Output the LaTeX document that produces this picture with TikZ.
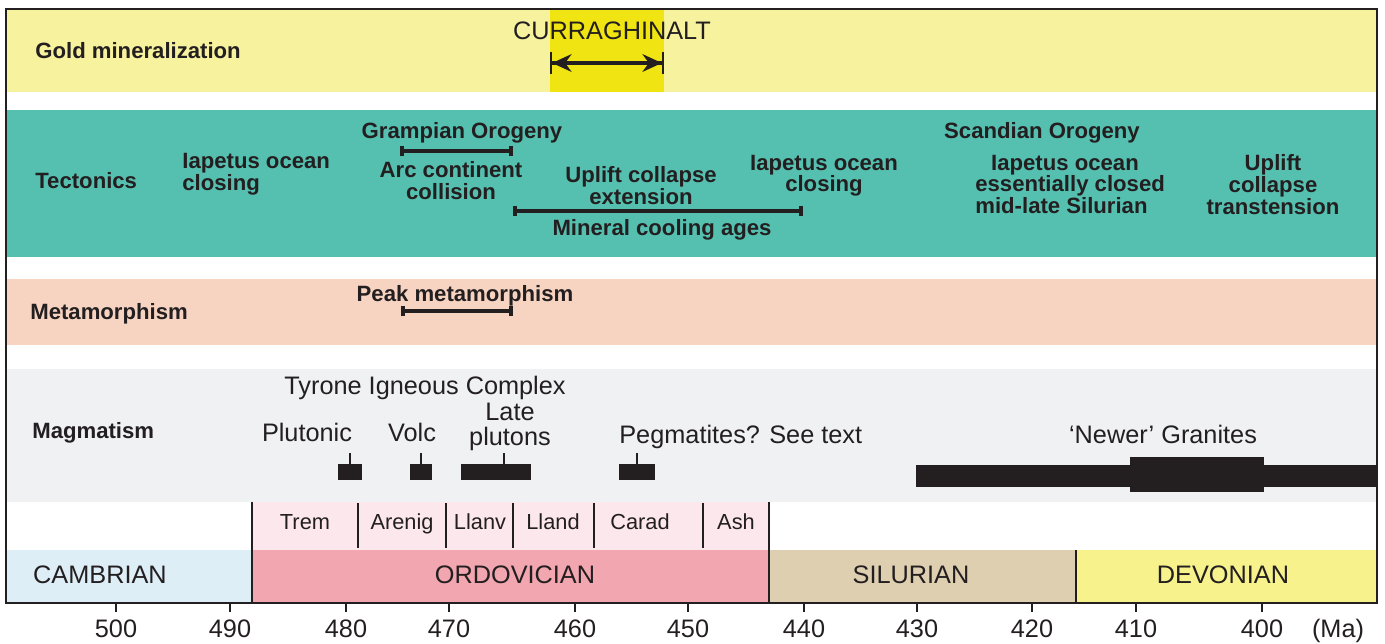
\documentclass[tikz,border=0pt]{standalone}
\usepackage{fontspec}
\setmainfont{Liberation Sans}
\usepackage{xcolor}
\usepackage{tikz}
\usetikzlibrary{arrows.meta}
\definecolor{ink}{RGB}{35,31,32}
\definecolor{goldband}{RGB}{247,242,158}
\definecolor{curfill}{RGB}{240,228,18}
\definecolor{tecband}{RGB}{85,192,176}
\definecolor{metband}{RGB}{247,211,193}
\definecolor{magband}{RGB}{240,241,243}
\definecolor{stagefill}{RGB}{252,232,236}
\definecolor{cambrian}{RGB}{222,238,247}
\definecolor{ordovician}{RGB}{242,166,176}
\definecolor{silurian}{RGB}{223,207,177}
\definecolor{devonian}{RGB}{247,242,140}
\tikzset{
  bandlabel/.style={anchor=base west, inner sep=0pt, text=ink,
                    font=\fontsize{12.6}{12.4}\selectfont\bfseries},
  evlabel/.style={inner sep=0pt, text=ink, align=center,
                  font=\fontsize{12.6}{12.4}\selectfont\bfseries},
  plainlabel/.style={inner sep=0pt, text=ink,
                     font=\fontsize{14.4}{14.3}\selectfont},
  stagelabel/.style={anchor=base, inner sep=0pt, text=ink,
                     font=\fontsize{12.4}{13}\selectfont},
  rangebar/.style={draw=ink, line width=2.3pt,
                   {Bar[width=6pt]}-{Bar[width=6pt]}},
  datebar/.style={draw=ink, line width=2.7pt,
                  {Bar[width=13pt,line width=1.2pt]Stealth[length=11pt,width=10pt]}-{Stealth[length=11pt,width=10pt]Bar[width=13pt,line width=1.2pt]}},
  divider/.style={draw=ink, line width=1.1pt},
  frame/.style={draw=ink, line width=1.2pt},
  axistick/.style={draw=ink, line width=1.1pt},
  stem/.style={draw=ink, line width=0.8pt},
}
\begin{document}
\begin{tikzpicture}[x=0.02cm, y=-0.02cm]
\useasboundingbox (0,0) rectangle (1385,643);
% one row per process, time runs right to left (Ma)
\fill[goldband] (6,9) rectangle (1377,92);
\fill[curfill] (550,9) rectangle (664,92);
\fill[tecband] (6,110) rectangle (1377,257);
\fill[metband] (6,279) rectangle (1377,345);
\fill[magband] (6,369) rectangle (1377,502);
\fill[stagefill] (252,502) rectangle (769,550);
% periods along the bottom
\foreach \xa/\xb/\col/\name/\xl in {6/252/cambrian/CAMBRIAN/100,
    252/769/ordovician/ORDOVICIAN/515, 769/1076/silurian/SILURIAN/911,
    1076/1377/devonian/DEVONIAN/1223}{
  \fill[\col] (\xa,550) rectangle (\xb,603);
  \node[plainlabel, anchor=base] (per-\name) at (\xl,583) {\name};
}
% Ordovician stages
\foreach \xx in {358,446,513,594,703}
  \draw[divider] (\xx,503) -- (\xx,548);
\draw[divider] (252,502) -- (252,603);
\draw[divider] (769,502) -- (769,603);
\draw[divider] (1076,550) -- (1076,603);
\foreach \xx/\name in {305/Trem,402/Arenig,480/Llanv,553/Lland,640/Carad,736/Ash}
  \node[stagelabel] (st-\name) at (\xx,529) {\name};
% frame and time axis
\draw[frame] (6,9) rectangle (1377,603);
\foreach \xx/\age in {116/500,230/490,346/480,449/470,575/460,688/450,
    804/440,917/430,1032/420,1136/410,1262/400}{
  \draw[axistick] (\xx,603) -- (\xx,612);
  \node[plainlabel, anchor=base] (age-\age) at (\xx,637) {\age};
}
\node[plainlabel, anchor=base] (unit) at (1338,637) {(Ma)};
% row titles
\node[bandlabel] (gold) at (35,58) {Gold mineralization};
\node[bandlabel] (tect) at (35,188) {Tectonics};
\node[bandlabel] (meta) at (30,319) {Metamorphism};
\node[bandlabel] (magm) at (32,438) {Magmatism};
% gold
\node[plainlabel, anchor=base] (curr) at (612,39) {CURRAGHINALT};
\coordinate (curr-s) at (550,63);
\coordinate (curr-e) at (664,63);
\draw[datebar] (curr-s) -- (curr-e);
% tectonics
\node[evlabel, anchor=north west, align=left] (iap1) at (182,153) {Iapetus ocean\\closing};
\node[evlabel, anchor=base] (gramp) at (462,138) {Grampian Orogeny};
\coordinate (gramp-s) at (400,151);
\coordinate (gramp-e) at (513,151);
\draw[rangebar] (gramp-s) -- (gramp-e);
\node[evlabel, anchor=north] (arc) at (451,161.5) {Arc continent\\collision};
\node[evlabel, anchor=north] (uplift1) at (641,166.5) {Uplift collapse\\extension};
\coordinate (cool-s) at (513,211);
\coordinate (cool-e) at (803,211);
\draw[rangebar] (cool-s) -- (cool-e);
\node[evlabel, anchor=base] (cool) at (662,235) {Mineral cooling ages};
\node[evlabel, anchor=north] (iap2) at (824,154.5) {Iapetus ocean\\closing};
\node[evlabel, anchor=base] (scand) at (1042,138) {Scandian Orogeny};
\node[evlabel, anchor=north west, align=left] (iap3) at (975,154.5)
  {\hspace*{9pt}Iapetus ocean\\essentially closed\\mid-late Silurian};
\node[evlabel, anchor=north] (uplift2) at (1273,154.5) {Uplift\\collapse\\transtension};
% metamorphism
\node[evlabel, anchor=base] (peak) at (465,301) {Peak metamorphism};
\coordinate (peak-s) at (401,311);
\coordinate (peak-e) at (513,311);
\draw[rangebar] (peak-s) -- (peak-e);
% magmatism
\node[plainlabel, anchor=base] (tyrone) at (425,394) {Tyrone Igneous Complex};
\node[plainlabel, anchor=base] (pluton) at (307,441) {Plutonic};
\node[plainlabel, anchor=base] (volc) at (412,441) {Volc};
\node[plainlabel, anchor=north, align=center] (late) at (510,403) {Late\\plutons};
\node[plainlabel, anchor=base west] (pegm) at (619,443) {Pegmatites? See text};
\node[plainlabel, anchor=base] (newer) at (1163,443) {`Newer' Granites};
\foreach \xa/\xb/\xs in {338/362/350, 410/432/421, 461/531/504, 619/655/637}{
  \fill[ink] (\xa,464) rectangle (\xb,480);
  \draw[stem] (\xs,453) -- (\xs,464);
}
\fill[ink] (916,465) rectangle (1377,487);
\fill[ink] (1130,457) rectangle (1264,492);
\end{tikzpicture}
\end{document}
